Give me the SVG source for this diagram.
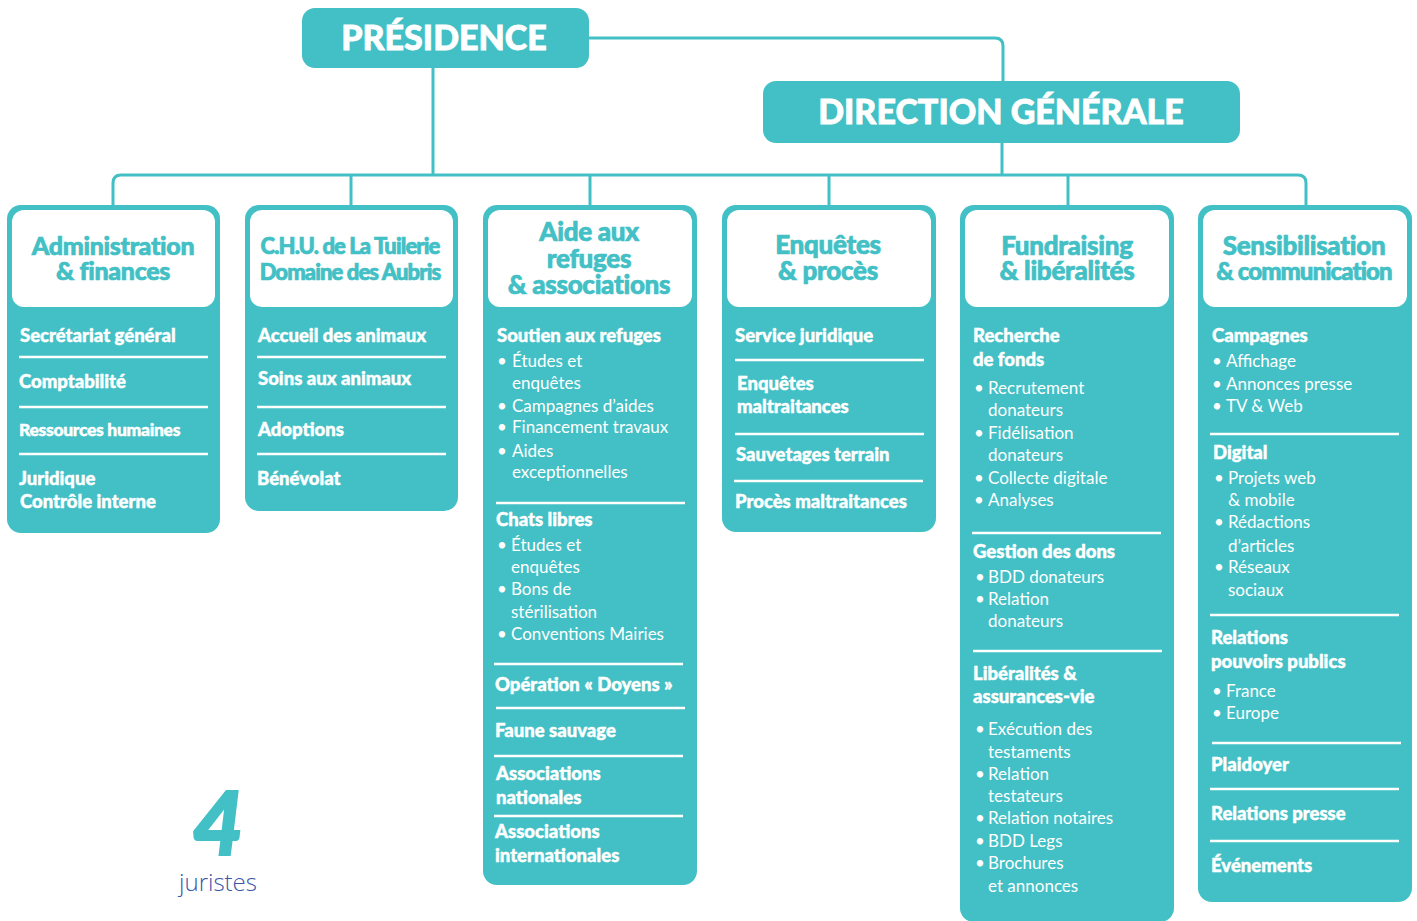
<svg xmlns="http://www.w3.org/2000/svg" width="1417" height="921" viewBox="0 0 1417 921">
<style>
.box{fill:#42C0C5}
.hdr{fill:#fff}
.top{font-family:Lato,"Noto Sans",sans-serif;font-weight:900;fill:#fff;font-size:34px;text-anchor:middle;stroke:#fff;stroke-width:0.8}
.ht{font-family:Lato,"Noto Sans",sans-serif;font-weight:900;fill:#42C0C5;font-size:26px;text-anchor:middle;letter-spacing:-0.3px;stroke:#42C0C5;stroke-width:0.7}
.b{font-family:Lato,"Noto Sans",sans-serif;font-weight:900;fill:#fff;font-size:18.5px;stroke:#fff;stroke-width:0.45}
.r{font-family:Lato,"Noto Sans",sans-serif;font-weight:400;fill:#fff;font-size:17px}
.sep{stroke:#fff;stroke-width:2.5}
.con{stroke:#42C0C5;stroke-width:3;fill:none}
</style>
<g id="connectors">
<path class="con" d="M589,38 H995 Q1003,38 1003,46 V82"/>
<path class="con" d="M433,68 V175"/>
<path class="con" d="M1002,142 V175"/>
<path class="con" d="M113,206 V183 Q113,175 121,175 H1298 Q1306,175 1306,183 V206"/>
<path class="con" d="M351,175 V206 M590,175 V206 M829,175 V206 M1068,175 V206"/>
</g>
<g id="presidence">
<rect class="box" x="302" y="8" width="287" height="60" rx="13"/>
<text class="top" x="444" y="50">PRÉSIDENCE</text>
</g>
<g id="direction">
<rect class="box" x="763" y="81" width="477" height="62" rx="13"/>
<text class="top" x="1001" y="124">DIRECTION GÉNÉRALE</text>
</g>
<g id="admin">
<rect class="box" x="7" y="205" width="213" height="328" rx="14"/>
<rect class="hdr" x="12" y="210" width="203" height="97" rx="12"/>
<text class="ht" x="113" y="255" style="font-size:25px">Administration</text>
<text class="ht" x="113" y="280" style="font-size:25px">&amp; finances</text>
<text class="b" x="20" y="342">Secrétariat général</text>
<line class="sep" x1="19" y1="357" x2="208" y2="357"/>
<text class="b" x="19" y="388">Comptabilité</text>
<line class="sep" x1="19" y1="407" x2="208" y2="407"/>
<text class="b" x="19" y="436" style="font-size:17.5px;letter-spacing:-0.3px">Ressources humaines</text>
<line class="sep" x1="19" y1="454" x2="208" y2="454"/>
<text class="b" x="19" y="485">Juridique</text>
<text class="b" x="20" y="508">Contrôle interne</text>
</g>
<g id="chu">
<rect class="box" x="245" y="205" width="213" height="306" rx="14"/>
<rect class="hdr" x="250" y="210" width="203" height="97" rx="12"/>
<text class="ht" x="350" y="254" style="font-size:22px;letter-spacing:-0.9px">C.H.U. de La Tuilerie</text>
<text class="ht" x="350" y="280" style="font-size:22px;letter-spacing:-0.9px">Domaine des Aubris</text>
<text class="b" x="258" y="342">Accueil des animaux</text>
<line class="sep" x1="257" y1="357" x2="446" y2="357"/>
<text class="b" x="258" y="385">Soins aux animaux</text>
<line class="sep" x1="257" y1="407" x2="446" y2="407"/>
<text class="b" x="258" y="436">Adoptions</text>
<line class="sep" x1="257" y1="454" x2="446" y2="454"/>
<text class="b" x="257" y="485">Bénévolat</text>
</g>
<g id="aide">
<rect class="box" x="483" y="205" width="214" height="680" rx="14"/>
<rect class="hdr" x="488" y="210" width="204" height="97" rx="12"/>
<text class="ht" x="589" y="241">Aide aux</text>
<text class="ht" x="589" y="268">refuges</text>
<text class="ht" x="589" y="294">&amp; associations</text>
<text class="b" x="497" y="342">Soutien aux refuges</text>
<text class="r" x="497" y="367">•</text><text class="r" x="512" y="367">Études et</text>
<text class="r" x="512" y="389">enquêtes</text>
<text class="r" x="497" y="412">•</text><text class="r" x="512" y="412">Campagnes d’aides</text>
<text class="r" x="497" y="433">•</text><text class="r" x="512" y="433">Financement travaux</text>
<text class="r" x="497" y="457">•</text><text class="r" x="512" y="457">Aides</text>
<text class="r" x="512" y="478">exceptionnelles</text>
<line class="sep" x1="496" y1="503" x2="685" y2="503"/>
<text class="b" x="496" y="526">Chats libres</text>
<text class="r" x="497" y="551">•</text><text class="r" x="511" y="551">Études et</text>
<text class="r" x="511" y="573">enquêtes</text>
<text class="r" x="497" y="595">•</text><text class="r" x="511" y="595">Bons de</text>
<text class="r" x="511" y="618">stérilisation</text>
<text class="r" x="497" y="640">•</text><text class="r" x="511" y="640">Conventions Mairies</text>
<line class="sep" x1="494" y1="664" x2="683" y2="664"/>
<text class="b" x="495" y="691">Opération « Doyens »</text>
<line class="sep" x1="496" y1="708" x2="685" y2="708"/>
<text class="b" x="495" y="737">Faune sauvage</text>
<line class="sep" x1="494" y1="756" x2="683" y2="756"/>
<text class="b" x="496" y="780">Associations</text>
<text class="b" x="496" y="804">nationales</text>
<line class="sep" x1="494" y1="816" x2="683" y2="816"/>
<text class="b" x="495" y="838">Associations</text>
<text class="b" x="495" y="862">internationales</text>
</g>
<g id="enquetes">
<rect class="box" x="722" y="205" width="214" height="327" rx="14"/>
<rect class="hdr" x="727" y="210" width="204" height="97" rx="12"/>
<text class="ht" x="828" y="254">Enquêtes</text>
<text class="ht" x="828" y="280">&amp; procès</text>
<text class="b" x="735" y="342">Service juridique</text>
<line class="sep" x1="735" y1="360" x2="924" y2="360"/>
<text class="b" x="737" y="390">Enquêtes</text>
<text class="b" x="737" y="413">maltraitances</text>
<line class="sep" x1="735" y1="434" x2="924" y2="434"/>
<text class="b" x="736" y="461">Sauvetages terrain</text>
<line class="sep" x1="734" y1="481" x2="923" y2="481"/>
<text class="b" x="735" y="508">Procès maltraitances</text>
</g>
<g id="fundraising">
<rect class="box" x="960" y="205" width="214" height="717" rx="14"/>
<rect class="hdr" x="965" y="210" width="204" height="97" rx="12"/>
<text class="ht" x="1067" y="255">Fundraising</text>
<text class="ht" x="1067" y="280">&amp; libéralités</text>
<text class="b" x="973" y="342">Recherche</text>
<text class="b" x="973" y="366">de fonds</text>
<text class="r" x="974" y="394">•</text><text class="r" x="988" y="394">Recrutement</text>
<text class="r" x="988" y="416">donateurs</text>
<text class="r" x="974" y="439">•</text><text class="r" x="988" y="439">Fidélisation</text>
<text class="r" x="988" y="461">donateurs</text>
<text class="r" x="974" y="484">•</text><text class="r" x="988" y="484">Collecte digitale</text>
<text class="r" x="974" y="506">•</text><text class="r" x="988" y="506">Analyses</text>
<line class="sep" x1="972" y1="533" x2="1161" y2="533"/>
<text class="b" x="973" y="558">Gestion des dons</text>
<text class="r" x="975" y="583">•</text><text class="r" x="988" y="583">BDD donateurs</text>
<text class="r" x="975" y="605">•</text><text class="r" x="988" y="605">Relation</text>
<text class="r" x="988" y="627">donateurs</text>
<line class="sep" x1="973" y1="651" x2="1162" y2="651"/>
<text class="b" x="973" y="680">Libéralités &amp;</text>
<text class="b" x="973" y="703">assurances-vie</text>
<text class="r" x="975" y="735">•</text><text class="r" x="988" y="735">Exécution des</text>
<text class="r" x="988" y="758">testaments</text>
<text class="r" x="975" y="780">•</text><text class="r" x="988" y="780">Relation</text>
<text class="r" x="988" y="802">testateurs</text>
<text class="r" x="975" y="824">•</text><text class="r" x="988" y="824">Relation notaires</text>
<text class="r" x="975" y="847">•</text><text class="r" x="988" y="847">BDD Legs</text>
<text class="r" x="975" y="869">•</text><text class="r" x="988" y="869">Brochures</text>
<text class="r" x="988" y="892">et annonces</text>
</g>
<g id="sensibilisation">
<rect class="box" x="1198" y="205" width="214" height="697" rx="14"/>
<rect class="hdr" x="1203" y="210" width="204" height="97" rx="12"/>
<text class="ht" x="1304" y="255">Sensibilisation</text>
<text class="ht" x="1304" y="280" style="font-size:24px;letter-spacing:-0.9px">&amp; communication</text>
<text class="b" x="1212" y="342">Campagnes</text>
<text class="r" x="1212" y="367">•</text><text class="r" x="1226" y="367">Affichage</text>
<text class="r" x="1212" y="390">•</text><text class="r" x="1226" y="390">Annonces presse</text>
<text class="r" x="1212" y="412">•</text><text class="r" x="1226" y="412">TV &amp; Web</text>
<line class="sep" x1="1210" y1="434" x2="1399" y2="434"/>
<text class="b" x="1213" y="459">Digital</text>
<text class="r" x="1214" y="484">•</text><text class="r" x="1228" y="484">Projets web</text>
<text class="r" x="1228" y="506">&amp; mobile</text>
<text class="r" x="1214" y="528">•</text><text class="r" x="1228" y="528">Rédactions</text>
<text class="r" x="1228" y="552">d’articles</text>
<text class="r" x="1214" y="573">•</text><text class="r" x="1228" y="573">Réseaux</text>
<text class="r" x="1228" y="596">sociaux</text>
<line class="sep" x1="1210" y1="615" x2="1399" y2="615"/>
<text class="b" x="1211" y="644">Relations</text>
<text class="b" x="1211" y="668">pouvoirs publics</text>
<text class="r" x="1212" y="697">•</text><text class="r" x="1226" y="697">France</text>
<text class="r" x="1212" y="719">•</text><text class="r" x="1226" y="719">Europe</text>
<line class="sep" x1="1212" y1="743" x2="1401" y2="743"/>
<text class="b" x="1211" y="771">Plaidoyer</text>
<line class="sep" x1="1210" y1="789" x2="1399" y2="789"/>
<text class="b" x="1211" y="820">Relations presse</text>
<line class="sep" x1="1210" y1="841" x2="1399" y2="841"/>
<text class="b" x="1211" y="872">Événements</text>
</g>
<g id="juristes">
<text x="218" y="855" font-family="Lato,'Noto Sans',sans-serif" font-weight="900" font-style="italic" font-size="88" fill="#42C0C5" stroke="#42C0C5" stroke-width="2" text-anchor="middle">4</text>
<text x="218" y="891" font-family="'Open Sans',Lato,sans-serif" font-weight="300" font-size="24" fill="#3A56A8" text-anchor="middle">juristes</text>
</g>
</svg>
